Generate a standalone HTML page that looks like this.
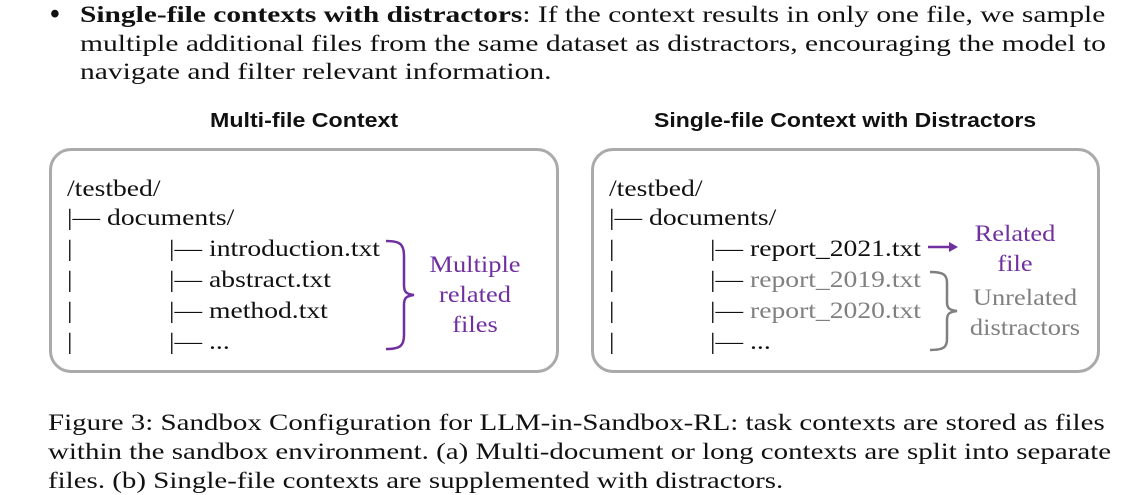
<!DOCTYPE html>
<html><head><meta charset="utf-8"><style>
body{margin:0;width:1146px;height:490px;background:#fff;position:relative;overflow:hidden;font-family:"Liberation Serif",serif;color:#111}
.a{position:absolute;white-space:nowrap;transform-origin:0 0}
.p{font-size:23px;line-height:29px;transform:scaleX(1.284)}
.box{position:absolute;border:3px solid #aaa;border-radius:22px;box-sizing:border-box}
.t{font-size:23px;line-height:22px;transform:scaleX(1.2)}
.h{font-family:"Liberation Sans",sans-serif;font-weight:bold;font-size:20px;transform:scaleX(1.16)}
.pu{color:#7030a0}.g{color:#808080}
.c{text-align:center;font-size:23px;line-height:30px;transform:scaleX(1.15);transform-origin:50% 0}
</style></head><body>
<div class="a p" style="top:0px;left:50px;transform:none;font-size:28px;font-weight:bold">•</div>
<div class="a p" style="top:0px;left:80px;transform:scaleX(1.28)"><b>Single-file contexts with distractors</b>: If the context results in only one file, we sample</div>
<div class="a p" style="top:29px;left:80px">multiple additional files from the same dataset as distractors, encouraging the model to</div>
<div class="a p" style="top:57px;left:80px">navigate and filter relevant information.</div>

<div class="a h" style="left:210px;top:110px">Multi-file Context</div>
<div class="a h" style="left:654px;top:110px;transform:scaleX(1.15)">Single-file Context with Distractors</div>

<div class="box" style="left:49px;top:148px;width:510px;height:225px"></div>
<div class="box" style="left:591px;top:148px;width:509px;height:225px"></div>

<div class="a t" style="left:67px;top:178px">/testbed/</div>
<div class="a t" style="left:67px;top:207px">|— documents/</div>
<div class="a t" style="left:67px;top:238px">|</div><div class="a t" style="left:169px;top:238px">|— introduction.txt</div>
<div class="a t" style="left:67px;top:269px">|</div><div class="a t" style="left:169px;top:269px">|— abstract.txt</div>
<div class="a t" style="left:67px;top:300px">|</div><div class="a t" style="left:169px;top:300px">|— method.txt</div>
<div class="a t" style="left:67px;top:331px">|</div><div class="a t" style="left:169px;top:331px">|— ...</div>
<div class="a c pu" style="left:420px;width:110px;top:250px">Multiple<br>related<br>files</div>

<div class="a t" style="left:609px;top:178px">/testbed/</div>
<div class="a t" style="left:609px;top:207px">|— documents/</div>
<div class="a t" style="left:609px;top:238px">|</div><div class="a t" style="left:710px;top:238px">|— report_2021.txt</div>
<div class="a t" style="left:609px;top:269px">|</div><div class="a t" style="left:710px;top:269px">|— <span class="g">report_2019.txt</span></div>
<div class="a t" style="left:609px;top:300px">|</div><div class="a t" style="left:710px;top:300px">|— <span class="g">report_2020.txt</span></div>
<div class="a t" style="left:609px;top:331px">|</div><div class="a t" style="left:710px;top:331px">|— ...</div>
<div class="a c pu" style="left:960px;width:110px;top:219px">Related<br>file</div>
<div class="a c g" style="left:960px;width:130px;top:283px">Unrelated<br>distractors</div>

<svg class="a" style="left:0;top:0" width="1146" height="490">
<path d="M386,241 C400,241 404,244 404,256 L404,285 C404,292 406,294 414,295 C406,296 404,298 404,305 L404,335 C404,346 400,349 386,349" fill="none" stroke="#7030a0" stroke-width="2.5"/>
<path d="M930,272 C944,272 947,275 947,283 L947,302 C947,308 949,310 957,311 C949,312 947,314 947,320 L947,339 C947,347 944,350 930,350" fill="none" stroke="#808080" stroke-width="2.5"/>
<line x1="928" y1="247" x2="950" y2="247" stroke="#7030a0" stroke-width="2.5"/>
<path d="M949,242 L958,247 L949,252 Z" fill="#7030a0"/>
</svg>

<div class="a p" style="left:48px;top:408px;transform:scaleX(1.258)">Figure 3: Sandbox Configuration for LLM-in-Sandbox-RL: task contexts are stored as files</div>
<div class="a p" style="left:48px;top:437px;transform:scaleX(1.258)">within the sandbox environment. (a) Multi-document or long contexts are split into separate</div>
<div class="a p" style="left:48px;top:466px;transform:scaleX(1.258)">files. (b) Single-file contexts are supplemented with distractors.</div>
</body></html>
